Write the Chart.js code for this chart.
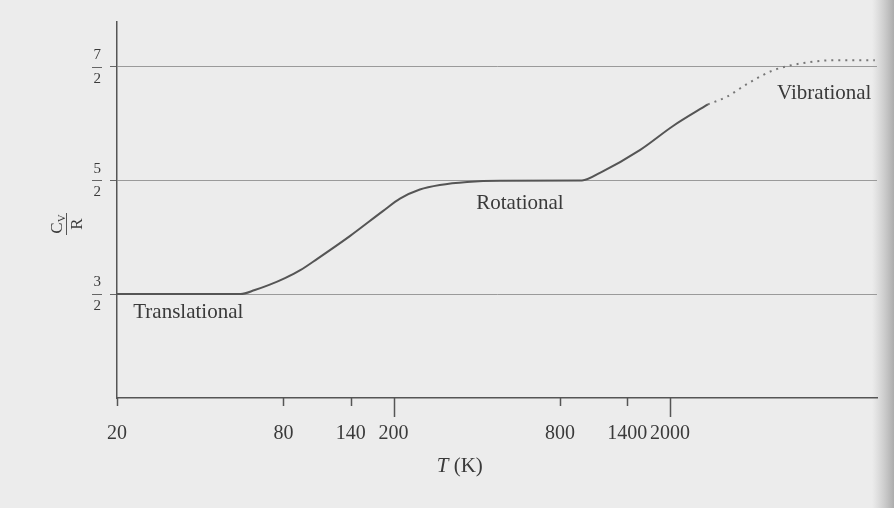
<!DOCTYPE html>
<html>
<head>
<meta charset="utf-8">
<script src="https://cdn.jsdelivr.net/npm/chart.js@4"></script>
<style>
  html, body { margin: 0; padding: 0; background: #ececec; }
  #wrap { width: 894px; height: 508px; }
</style>
</head>
<body>
<div id="wrap"><canvas id="cvChart" width="894" height="508"></canvas></div>
<script>
// Теплоёмкость H2: Cv/R в зависимости от T (логарифмическая шкала)
const solidT  = [20, 56, 63, 71, 81, 92, 106, 139, 183, 211, 249, 294, 369, 486, 960, 1120, 1560, 2050, 2740];
const solidCv = [1.50, 1.50, 1.535, 1.58, 1.64, 1.71, 1.81, 2.01, 2.23, 2.34, 2.42, 2.46, 2.487, 2.497, 2.50, 2.57, 2.77, 2.98, 3.17];
const dottedT  = [2740, 3220, 3800, 4720, 6260, 8240, 11000];
const dottedCv = [3.17, 3.24, 3.35, 3.47, 3.54, 3.56, 3.56];

const xTicks = [20, 80, 140, 200, 800, 1400, 2000];
const xLongTicks = [200, 2000];
const yTicks = [1.5, 2.5, 3.5];
const yTickLabels = [['3', '2'], ['5', '2'], ['7', '2']];

const regionNames = ['Translational', 'Rotational', 'Vibrational'];

const SERIF = '"Liberation Serif", "DejaVu Serif", serif';
const INK = '#3a3a3a';

function toPoints(xs, ys) {
    return xs.map((x, i) => ({ x: x, y: ys[i] }));
}

// Фон страницы + тень у правого края
const paperPlugin = {
    id: 'paper',
    beforeDraw(chart) {
        const { ctx, width, height } = chart;
        ctx.save();
        ctx.fillStyle = '#ececec';
        ctx.fillRect(0, 0, width, height);
        const g = ctx.createLinearGradient(width - 22, 0, width, 0);
        g.addColorStop(0, 'rgba(150,150,150,0)');
        g.addColorStop(1, 'rgba(120,120,120,0.55)');
        ctx.fillStyle = g;
        ctx.fillRect(width - 22, 0, 22, height);
        ctx.restore();
    }
};

// Засечки по X, дробные черты по Y, подписи и заголовки осей
const decorPlugin = {
    id: 'decor',
    afterDraw(chart) {
        const { ctx, chartArea } = chart;
        const xs = chart.scales.x;
        const ys = chart.scales.y;
        ctx.save();

        // засечки оси X разной длины
        ctx.strokeStyle = '#555';
        ctx.lineWidth = 1.5;
        xTicks.forEach(v => {
            const px = Math.round(xs.getPixelForValue(v)) + 0.5;
            const len = xLongTicks.includes(v) ? 19 : 8;
            ctx.beginPath();
            ctx.moveTo(px, chartArea.bottom);
            ctx.lineTo(px, chartArea.bottom + len);
            ctx.stroke();
        });

        // дробные черты у меток оси Y
        ctx.strokeStyle = '#666';
        ctx.lineWidth = 1;
        yTicks.forEach(v => {
            const py = Math.round(ys.getPixelForValue(v)) + 0.5;
            ctx.beginPath();
            ctx.moveTo(chartArea.left - 25, py);
            ctx.lineTo(chartArea.left - 15, py);
            ctx.stroke();
        });

        // подписи областей
        ctx.fillStyle = INK;
        ctx.font = '21px ' + SERIF;
        ctx.textBaseline = 'middle';
        ctx.textAlign = 'left';
        ctx.fillText(regionNames[0], xs.getPixelForValue(22.9), ys.getPixelForValue(1.335));
        ctx.textAlign = 'center';
        ctx.fillText(regionNames[1], xs.getPixelForValue(573), ys.getPixelForValue(2.30));
        ctx.textAlign = 'left';
        ctx.fillText(regionNames[2], xs.getPixelForValue(4874), ys.getPixelForValue(3.27));

        // заголовок оси X: T (K)
        const cx = (xs.getPixelForValue(200) + xs.getPixelForValue(800)) / 2 - 17;
        const ty = 466;
        ctx.font = 'italic 21px ' + SERIF;
        const wT = ctx.measureText('T').width;
        ctx.font = '21px ' + SERIF;
        const wK = ctx.measureText(' (K)').width;
        const start = cx - (wT + wK) / 2;
        ctx.textAlign = 'left';
        ctx.font = 'italic 21px ' + SERIF;
        ctx.fillText('T', start, ty);
        ctx.font = '21px ' + SERIF;
        ctx.fillText(' (K)', start + wT, ty);

        // заголовок оси Y: C_V / R (повёрнут)
        ctx.translate(66, 224);
        ctx.rotate(-Math.PI / 2);
        ctx.font = '17px ' + SERIF;
        const wC = ctx.measureText('C').width;
        ctx.font = '11px ' + SERIF;
        const wV = ctx.measureText('V').width;
        const num0 = -(wC + wV) / 2;
        ctx.textBaseline = 'alphabetic';
        ctx.font = '17px ' + SERIF;
        ctx.fillText('C', num0, -4);
        ctx.font = '11px ' + SERIF;
        ctx.fillText('V', num0 + wC, -1);
        ctx.strokeStyle = '#555';
        ctx.lineWidth = 1;
        ctx.beginPath();
        ctx.moveTo(-11, 0.5);
        ctx.lineTo(11, 0.5);
        ctx.stroke();
        ctx.textAlign = 'center';
        ctx.textBaseline = 'top';
        ctx.font = '17px ' + SERIF;
        ctx.fillText('R', 0, 3);

        ctx.restore();
    }
};

new Chart(document.getElementById('cvChart'), {
    type: 'line',
    data: {
        datasets: [{
            label: 'Cv/R',
            data: toPoints(solidT, solidCv),
            borderColor: '#555',
            borderWidth: 2,
            pointRadius: 0,
            cubicInterpolationMode: 'monotone',
            fill: false
        }, {
            label: 'Cv/R (оценка)',
            data: toPoints(dottedT, dottedCv),
            borderColor: '#777',
            borderWidth: 2,
            borderDash: [2, 5],
            pointRadius: 0,
            cubicInterpolationMode: 'monotone',
            fill: false
        }]
    },
    options: {
        responsive: false,
        animation: false,
        events: [],
        layout: { padding: { left: 0, right: 17, top: 22, bottom: 0 } },
        plugins: {
            legend: { display: false },
            tooltip: { enabled: false }
        },
        scales: {
            x: {
                type: 'logarithmic',
                min: 20,
                max: 11200,
                afterBuildTicks(scale) {
                    scale.ticks = xTicks.map(v => ({ value: v }));
                },
                afterFit(scale) {
                    scale.height = 110;
                    scale.paddingLeft = 0;
                    scale.paddingRight = 0;
                },
                grid: { display: false, drawTicks: false },
                border: { display: true, color: '#555', width: 1.5 },
                ticks: {
                    autoSkip: false,
                    maxRotation: 0,
                    padding: 24,
                    color: INK,
                    font: { family: SERIF, size: 20 },
                    callback: v => String(v)
                }
            },
            y: {
                type: 'linear',
                min: 0.584,
                max: 3.896,
                afterBuildTicks(scale) {
                    scale.ticks = yTicks.map(v => ({ value: v }));
                },
                afterFit(scale) {
                    scale.width = 117;
                    scale.paddingTop = 0;
                    scale.paddingBottom = 0;
                },
                grid: {
                    display: true,
                    drawOnChartArea: true,
                    drawTicks: true,
                    tickLength: 7,
                    color: '#9a9a9a',
                    tickColor: '#666',
                    lineWidth: 1
                },
                border: { display: true, color: '#555', width: 1.5 },
                ticks: {
                    autoSkip: false,
                    padding: 9,
                    color: INK,
                    font: { family: SERIF, size: 15, lineHeight: 1.55 },
                    callback: (v) => {
                        const i = yTicks.indexOf(v);
                        return i >= 0 ? yTickLabels[i] : '';
                    }
                }
            }
        }
    },
    plugins: [paperPlugin, decorPlugin]
});
</script>
</body>
</html>
